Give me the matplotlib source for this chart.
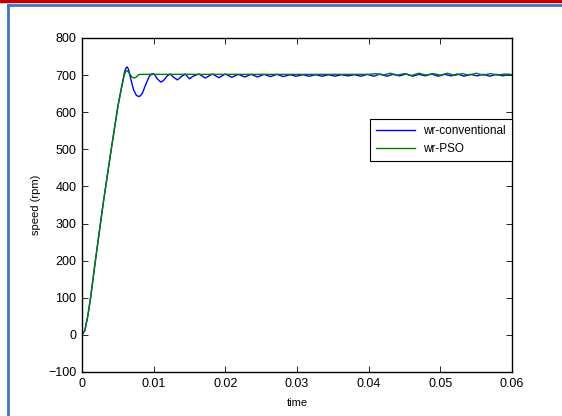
import matplotlib
matplotlib.use('Agg')
import matplotlib.pyplot as plt
from matplotlib.lines import Line2D

plt.rcParams['font.family'] = ['Liberation Sans', 'DejaVu Sans']
plt.rcParams['font.size'] = 8

# wr-conventional (time, speed)
t_conv = [0, 0.0004, 0.0008, 0.0012, 0.0018, 0.0025, 0.003, 0.004, 0.005, 0.0055,
          0.0059, 0.0061, 0.0063, 0.0065, 0.0068, 0.0072, 0.0076, 0.0080, 0.0084,
          0.0089, 0.0094, 0.0098, 0.0101, 0.0105, 0.0110, 0.0114, 0.0119, 0.0123,
          0.0128, 0.0133, 0.0138, 0.0144, 0.0150, 0.0155, 0.0163, 0.0172, 0.0182,
          0.0191, 0.0200, 0.0209, 0.0218, 0.0227, 0.0236, 0.0245, 0.0254, 0.0263,
          0.0272, 0.0281, 0.0290, 0.0299, 0.0308, 0.0317, 0.0326, 0.0335, 0.0344,
          0.0353, 0.0362, 0.0371, 0.0380, 0.0389, 0.0398, 0.0407, 0.0416, 0.0425,
          0.0434, 0.0443, 0.0452, 0.0461, 0.0470, 0.0479, 0.0488, 0.0497, 0.0506,
          0.0515, 0.0524, 0.0533, 0.0542, 0.0551, 0.0560, 0.0569, 0.0578, 0.0587,
          0.0596, 0.0600]
w_conv = [0, 12, 50, 100, 190, 290, 360, 490, 615, 665,
          705, 718, 722, 715, 690, 660, 645, 642, 650,
          675, 697, 704, 702, 690, 681, 686, 698, 703,
          694, 687, 695, 703, 690, 697, 703, 692, 703,
          693, 703, 694, 702, 695, 702, 695, 702, 696,
          702, 696, 701, 697, 701, 697, 701, 697, 701,
          697, 701, 698, 701, 697, 702, 697, 703, 697,
          702, 698, 703, 697, 702, 698, 703, 697, 702,
          698, 703, 697, 702, 698, 702, 697, 702, 698,
          702, 700]

# wr-PSO (time, speed)
t_pso = [0, 0.0004, 0.0008, 0.0012, 0.0018, 0.0025, 0.003, 0.004, 0.005, 0.0055,
         0.0059, 0.0061, 0.0063, 0.0066, 0.0070, 0.0073, 0.0076, 0.0079, 0.0082,
         0.015, 0.025, 0.035, 0.040, 0.041, 0.042, 0.043, 0.044, 0.045, 0.046,
         0.047, 0.048, 0.049, 0.050, 0.051, 0.052, 0.053, 0.054, 0.055, 0.056,
         0.057, 0.058, 0.059, 0.060]
w_pso = [0, 12, 50, 100, 190, 290, 360, 490, 615, 665,
         700, 710, 712, 705, 694, 692, 695, 701, 702,
         702, 702, 702, 702, 704, 700, 705, 700, 704, 699,
         705, 700, 704, 700, 705, 699, 704, 700, 705, 700,
         704, 700, 703, 701]

x_ticks = [0, 0.01, 0.02, 0.03, 0.04, 0.05, 0.06]
x_labels = ['0', '0.01', '0.02', '0.03', '0.04', '0.05', '0.06']
y_ticks = [-100, 0, 100, 200, 300, 400, 500, 600, 700, 800]

fig = plt.figure(figsize=(5.62, 4.16), dpi=100)
ax = fig.add_axes([0.1459, 0.1058, 0.7652, 0.8029])

ax.plot(t_conv, w_conv, color='#0000ff', lw=1.0, label='wr-conventional')
ax.plot(t_pso, w_pso, color='#008000', lw=1.0, label='wr-PSO')

ax.set_xlim(0, 0.06)
ax.set_ylim(-100, 800)
ax.set_xticks(x_ticks)
ax.set_xticklabels(x_labels)
ax.set_yticks(y_ticks)
ax.tick_params(direction='in', top=True, right=True, length=4, width=0.6, pad=4,
               labelsize=9)
for s in ax.spines.values():
    s.set_linewidth(1.0)
ax.set_xlabel('time', labelpad=6)
ax.set_ylabel('speed (rpm)', labelpad=5)

leg = ax.legend(loc='upper right', bbox_to_anchor=(1.0, 0.757), borderaxespad=0,
                fancybox=False, framealpha=1, edgecolor='black', handlelength=3.3,
                handletextpad=0.7, borderpad=0.5, labelspacing=0.5, fontsize=8.5)
leg.get_frame().set_linewidth(0.8)

# slide frame lines
fig.add_artist(Line2D([0, 1], [0.997, 0.997], color='#c00000', lw=2.5))
fig.add_artist(Line2D([0.0135, 1], [0.988, 0.988], color='#4472c4', lw=2.0))
fig.add_artist(Line2D([0.0135, 0.0135], [0, 0.988], color='#4472c4', lw=2.0))

fig.savefig('out.png', dpi=100)
